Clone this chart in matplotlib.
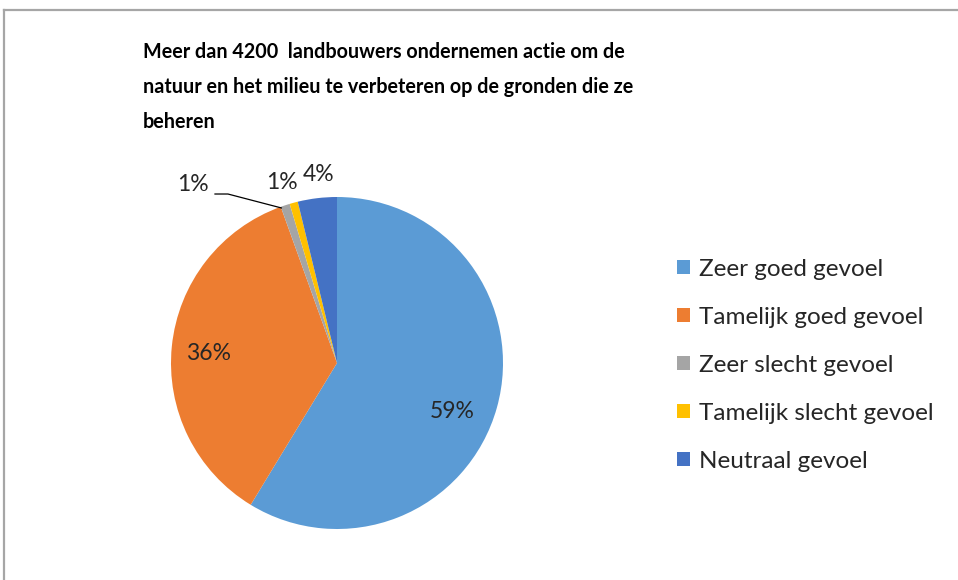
import matplotlib
matplotlib.use("Agg")
import matplotlib.pyplot as plt
from matplotlib import font_manager
from matplotlib.patches import Rectangle
from matplotlib.lines import Line2D

categories = ["Zeer goed gevoel", "Tamelijk goed gevoel", "Zeer slecht gevoel",
              "Tamelijk slecht gevoel", "Neutraal gevoel"]
values = [58.7, 35.8, 0.9, 0.8, 3.8]
colors = ["#5B9BD5", "#ED7D31", "#A5A5A5", "#FFC000", "#4472C4"]
title = ("Meer dan 4200  landbouwers ondernemen actie om de\n"
         "natuur en het milieu te verbeteren op de gronden die ze\n"
         "beheren")

names = {f.name for f in font_manager.fontManager.ttflist}
body = "Lato" if "Lato" in names else "DejaVu Sans"

W, H = 958, 580
fig = plt.figure(figsize=(W / 100, H / 100), dpi=100)
fig.patch.set_facecolor("white")

# frame (top and left visible)
fig.add_artist(Line2D([4 / W, 1], [1 - 9.5 / H, 1 - 9.5 / H], color="#A6A6A6", lw=1.6))
fig.add_artist(Line2D([4 / W, 4 / W], [0, 1 - 9.5 / H], color="#A6A6A6", lw=1.6))

# pie axes: center (337,363) px, radius 166 px
cx, cy, r = 337, 363, 166
ax = fig.add_axes([(cx - r) / W, (H - cy - r) / H, 2 * r / W, 2 * r / H])
wedges, _ = ax.pie(values, colors=colors, startangle=90, counterclock=False,
                   radius=1, wedgeprops=dict(linewidth=0))
ax.set_xlim(-1, 1)
ax.set_ylim(-1, 1)
ax.set_aspect("equal")
ax.axis("off")

labels = ["%d%%" % round(v) for v in values]
label_pos = [(0.695, -0.295), (-0.775, 0.06), (-0.87, 1.075), (-0.33, 1.09), (-0.11, 1.135)]
for lab, (x, y) in zip(labels, label_pos):
    ax.text(x, y, lab, ha="center", va="center", fontsize=16.5, family=body,
            color="#262626", clip_on=False)
# leader line for the grey slice label
ax.add_line(Line2D([-0.735, -0.657, -0.335], [1.018, 1.018, 0.934], color="black",
                   lw=0.9, clip_on=False))

fig.text(143 / W, 1 - 42 / H, title, ha="left", va="top", fontsize=14.2,
         fontweight="bold", family=body, color="black", linespacing=1.93)

handles = [Rectangle((0, 0), 1, 1, facecolor=c, edgecolor="none") for c in colors]
leg = fig.legend(handles, categories, loc="upper left",
                 bbox_to_anchor=(677 / W, 1 - 259 / H), frameon=False,
                 prop=dict(family=body, size=17.5), handlelength=0.52,
                 handleheight=0.52, handletextpad=0.40, labelspacing=1.11,
                 borderaxespad=0, borderpad=0)
for t in leg.get_texts():
    t.set_color("#262626")

fig.savefig("out.png", dpi=100, facecolor="white")
